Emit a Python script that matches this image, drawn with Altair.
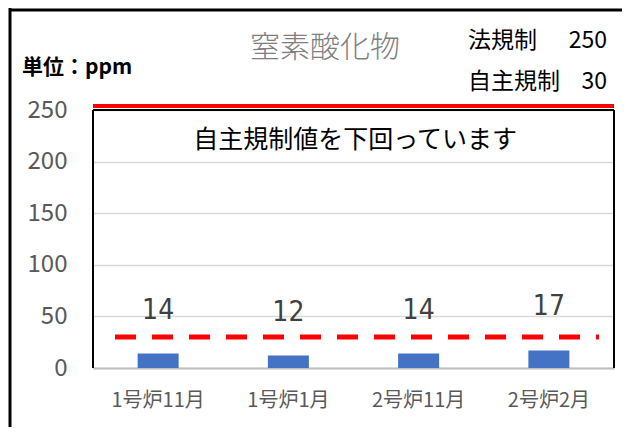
import altair as alt
import pandas as pd

# ---- data ----
categories = ["1号炉11月", "1号炉1月", "2号炉11月", "2号炉2月"]
values = [14, 12, 14, 17]
legal_limit = [250]
voluntary_limit = [30]
y_ticks = [0, 50, 100, 150, 200, 250]
title_text = ["窒素酸化物"]
unit_text = ["単位：ppm"]
note_text = ["自主規制値を下回っています"]
limit_names = ["法規制", "自主規制"]
limit_values = ["250", "30"]

CJK = "Noto Sans CJK JP"
NARROW = "DejaVu Sans Condensed, Liberation Sans Narrow, sans-serif"

W, H = 521, 258

df = pd.DataFrame({"cat": categories, "val": values})
one = pd.DataFrame({"d": [0]})

x_enc = alt.X(
    "cat:N",
    sort=categories,
    scale=alt.Scale(paddingInner=0, paddingOuter=0),
    axis=alt.Axis(
        title=None, labelAngle=0, ticks=False, domainColor="#BFBFBF", domainWidth=2,
        labelFont=CJK, labelFontSize=20, labelColor="#595959", labelPadding=22,
        grid=False,
    ),
)
y_enc = alt.Y(
    "val:Q",
    scale=alt.Scale(domain=[0, 250], nice=False),
    axis=alt.Axis(
        title=None, values=y_ticks, domain=False, ticks=False,
        gridColor="#D9D9D9", gridWidth=1.5,
        labelFont=CJK, labelFontSize=24, labelColor="#595959", labelPadding=26,
    ),
)

bars = alt.Chart(df).mark_bar(size=41, color="#4472C4").encode(x=x_enc, y=y_enc)

bar_labels = alt.Chart(df).mark_text(
    dy=-35, baseline="alphabetic", fontSize=28, font=NARROW, color="#404040"
).encode(x=alt.X("cat:N", sort=categories), y=alt.Y("val:Q", title=None), text="val:Q")

legal_line = alt.Chart(pd.DataFrame({"val": legal_limit})).mark_rule(
    color="#FF0000", strokeWidth=4, yOffset=-4
).encode(y=alt.Y("val:Q", title=None))

vol_line = alt.Chart(pd.DataFrame({"val": voluntary_limit})).mark_rule(
    color="#FF0000", strokeWidth=5, strokeDash=[21, 16]
).encode(y=alt.Y("val:Q", title=None), x=alt.value(22), x2=alt.value(506))

box_left = alt.Chart(one).mark_rule(color="black", strokeWidth=2).encode(
    x=alt.value(0), y=alt.value(0), y2=alt.value(H))
box_right = alt.Chart(one).mark_rule(color="black", strokeWidth=2).encode(
    x=alt.value(W), y=alt.value(0), y2=alt.value(H))
box_top = alt.Chart(one).mark_rule(color="black", strokeWidth=2).encode(
    x=alt.value(0), x2=alt.value(W), y=alt.value(0))

frame_left = alt.Chart(one).mark_rule(color="black", strokeWidth=3).encode(
    x=alt.value(-83), y=alt.value(-102), y2=alt.value(330))
frame_top = alt.Chart(one).mark_rule(color="black", strokeWidth=3).encode(
    x=alt.value(-84), x2=alt.value(540), y=alt.value(-100))


def text_layer(txt, x, y, **kw):
    return alt.Chart(pd.DataFrame({"t": [txt]})).mark_text(
        baseline="middle", **kw
    ).encode(x=alt.value(x), y=alt.value(y), text="t:N")


title = text_layer(title_text[0], 232, -62, font=CJK, fontSize=30, fontWeight=300,
                   color="#7F7F7F", align="center")
unit = text_layer(unit_text[0], -71, -42, font=CJK, fontSize=21, fontWeight="bold",
                  color="black", align="left")
note = text_layer(note_text[0], 262, 30, font=CJK, fontSize=25, color="black", align="center")

lim_rows_y = [-69, -28]
lim_layers = []
for name, num, yy in zip(limit_names, limit_values, lim_rows_y):
    lim_layers.append(text_layer(name, 375, yy, font=CJK, fontSize=23, color="black", align="left"))
    lim_layers.append(text_layer(num, 514, yy, font=CJK, fontSize=23, color="black", align="right"))

chart = alt.layer(
    bars, bar_labels, legal_line, vol_line, box_left, box_right, box_top,
    frame_left, frame_top, title, unit, note, *lim_layers,
).properties(
    width=W, height=H,
    autosize=alt.AutoSizeParams(type="none"),
    padding={"left": 85, "top": 102, "right": 8, "bottom": 59},
).configure_view(stroke=None)

chart.save("out.html", embed_options={"renderer": "svg", "actions": False})
